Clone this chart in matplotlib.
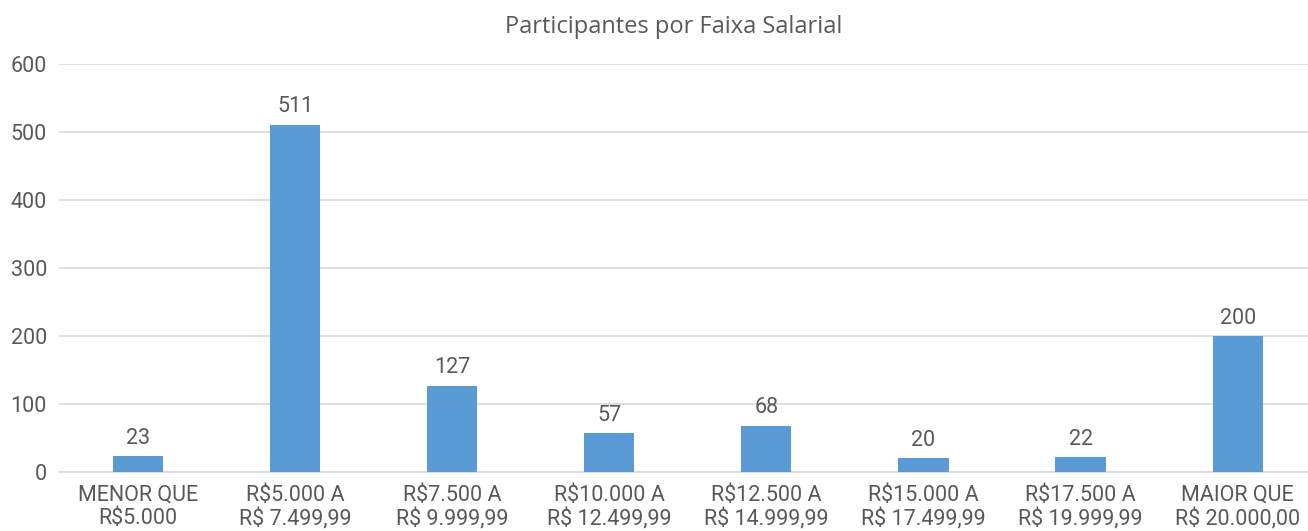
import matplotlib.pyplot as plt
import numpy as np

faixas = ["MENOR QUE\nR$5.000", "R$5.000 A\nR$ 7.499,99", "R$7.500 A\nR$ 9.999,99",
          "R$10.000 A\nR$ 12.499,99", "R$12.500 A\nR$ 14.999,99", "R$15.000 A\nR$ 17.499,99",
          "R$17.500 A\nR$ 19.999,99", "MAIOR QUE\nR$ 20.000,00"]
participantes = [23, 511, 127, 57, 68, 20, 22, 200]
y_ticks = [0, 100, 200, 300, 400, 500, 600]

plt.rcParams['font.family'] = ['Roboto', 'DejaVu Sans']
cor_texto = '#595959'
fs = 15.5

fig = plt.figure(figsize=(13.08, 5.31), dpi=100)
ax = fig.add_axes([0.0454, 0.111, 0.9546, 0.768])

x = np.arange(len(faixas))
bars = ax.bar(x, participantes, width=0.32, color='#5B9BD5', zorder=3)
for b, v in zip(bars, participantes):
    ax.text(b.get_x() + b.get_width() / 2, v + 11, str(v), ha='center', va='bottom',
            fontsize=fs, color=cor_texto)

ax.set_xlim(-0.5, -0.5 + 1248.6 / 157.1)
ax.set_ylim(0, 600)
ax.set_yticks(y_ticks)
ax.set_xticks(x)
ax.set_xticklabels(faixas, fontsize=fs, color=cor_texto, linespacing=1.18)
ax.tick_params(axis='y', labelsize=fs, labelcolor=cor_texto, length=0, pad=9)
ax.tick_params(axis='x', length=0, pad=9)
ax.grid(axis='y', color='#D9D9D9', linewidth=1.2, zorder=0)
for s in ['top', 'right', 'left']:
    ax.spines[s].set_visible(False)
ax.spines['bottom'].set_color('#D9D9D9')
ax.spines['bottom'].set_linewidth(1.2)

fig.text(0.515, 0.949, "Participantes por Faixa Salarial", ha='center', va='center',
         fontsize=17, color=cor_texto, family=['Open Sans', 'DejaVu Sans'])

fig.savefig('out.png', dpi=100)
